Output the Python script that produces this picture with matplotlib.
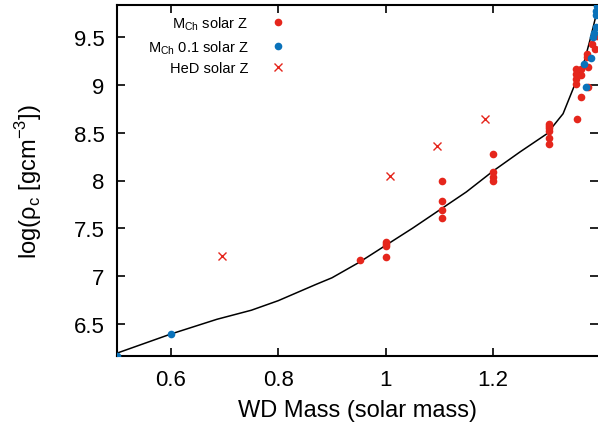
import matplotlib.pyplot as plt

plt.rcParams['font.family'] = ['Liberation Sans', 'DejaVu Sans']

# M_Ch models, solar metallicity
mch_mass = [0.952, 1.0, 1.0, 1.0, 1.0,
            1.105, 1.105, 1.105, 1.105,
            1.2, 1.2, 1.2, 1.2,
            1.304, 1.304, 1.304, 1.304, 1.304, 1.304,
            1.356, 1.364, 1.376, 1.354, 1.354, 1.354, 1.354,
            1.364, 1.364, 1.376, 1.375, 1.375, 1.383, 1.389, 1.394]
mch_rho = [7.165, 7.35, 7.33, 7.31, 7.20,
           7.99, 7.785, 7.69, 7.61,
           8.28, 8.09, 8.04, 7.99,
           8.59, 8.57, 8.55, 8.52, 8.45, 8.38,
           8.646, 8.88, 8.985, 9.17, 9.12, 9.06, 9.01,
           9.17, 9.11, 9.19, 9.33, 9.30, 9.43, 9.38, 9.52]

# M_Ch models, 0.1 solar metallicity
low_mass = [0.5, 0.6, 1.373, 1.369, 1.382, 1.385, 1.388, 1.391, 1.392, 1.392, 1.394]
low_rho = [6.16, 6.395, 8.985, 9.22, 9.28, 9.50, 9.55, 9.61, 9.73, 9.78, 9.83]

# He detonation models
hed_mass = [0.695, 1.008, 1.095, 1.184]
hed_rho = [7.204, 8.05, 8.36, 8.65]

# mass-density relation
curve_mass = [0.5, 0.6, 0.686, 0.75, 0.8, 0.87, 0.9, 0.95, 1.0, 1.05, 1.1, 1.15,
              1.2, 1.25, 1.3, 1.33, 1.35, 1.37, 1.38, 1.39, 1.40]
curve_rho = [6.19, 6.39, 6.545, 6.64, 6.74, 6.91, 6.98, 7.14, 7.32, 7.5, 7.69, 7.88,
             8.10, 8.30, 8.49, 8.70, 8.98, 9.26, 9.47, 9.70, 9.95]

red = '#e5261c'
blue = '#0a72ba'

fig = plt.figure(figsize=(5.98, 4.27), dpi=100)
ax = fig.add_axes([117 / 598, 1 - 357 / 427, 1 - 117 / 598, 351 / 427])

ax.plot(curve_mass, curve_rho, color='black', lw=1.1, zorder=2)
ax.plot(mch_mass, mch_rho, 'o', color=red, ms=5.5, mec='none', zorder=3,
        label='M$_\\mathregular{Ch}$ solar Z')
ax.plot(low_mass, low_rho, 'o', color=blue, ms=5.5, mec='none', zorder=3,
        label='M$_\\mathregular{Ch}$ 0.1 solar Z')
ax.plot(hed_mass, hed_rho, 'x', color=red, ms=5.5, mew=1.0, zorder=3,
        label='HeD solar Z')

ax.set_xlim(0.5, 1.395)
ax.set_ylim(6.16, 9.84)
ax.set_xticks([0.6, 0.8, 1.0, 1.2])
ax.set_xticklabels(['0.6', '0.8', '1', '1.2'])
ax.set_yticks([6.5, 7, 7.5, 8, 8.5, 9, 9.5])
ax.set_yticklabels(['6.5', '7', '7.5', '8', '8.5', '9', '9.5'])
ax.tick_params(direction='in', top=True, right=True, length=6, width=1.2,
               labelsize=16, pad=9)
ax.spines['right'].set_visible(False)
for s in ['left', 'bottom', 'top']:
    ax.spines[s].set_linewidth(1.5)

ax.set_xlabel('WD Mass (solar mass)', fontsize=17, labelpad=7)
ax.set_ylabel('log(ρ$_\\mathregular{c}$ [gcm$^\\mathregular{-3}$])', fontsize=17, labelpad=21)

ax.legend(loc='upper right', bbox_to_anchor=(0.361, 0.99), frameon=False,
          borderaxespad=0, markerfirst=False, alignment='right', fontsize=10.5,
          handlelength=1.0, handletextpad=1.5, labelspacing=0.4)

fig.savefig('out.png', dpi=100)
